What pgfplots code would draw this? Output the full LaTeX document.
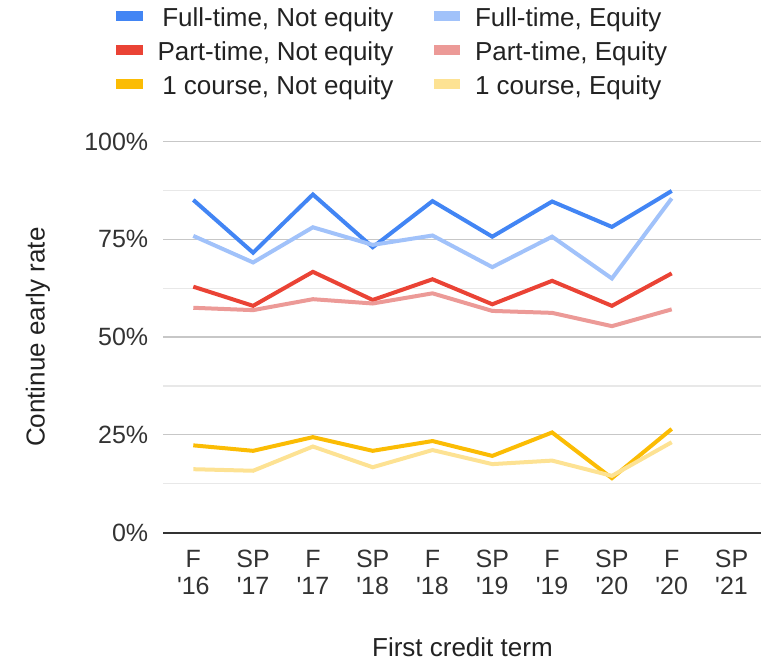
\documentclass[border=0pt]{standalone}
\usepackage{pgfplots}
\pgfplotsset{compat=1.18}
\usepackage{fontspec}
\setmainfont{Liberation Sans}[Ligatures=TeXOff]
\definecolor{cFTN}{HTML}{4285F4}
\definecolor{cFTE}{HTML}{A1C2FA}
\definecolor{cPTN}{HTML}{EA4335}
\definecolor{cPTE}{HTML}{EC9A97}
\definecolor{cOCN}{HTML}{FBBC04}
\definecolor{cOCE}{HTML}{FDE293}
\definecolor{txt}{HTML}{222222}
\newcommand{\lstrut}{\rule[-8pt]{0pt}{29pt}}
\newcommand{\lbox}[1]{\hbox to 236pt{\hfill #1}\lstrut}
\begin{document}
\begin{tikzpicture}
\useasboundingbox (0,0) rectangle (762pt,662pt);
\begin{axis}[
  at={(163.4pt,129.5pt)}, anchor=south west,
  scale only axis, width=598pt, height=390.8pt,
  xmin=-0.5, xmax=9.5, ymin=0, ymax=100,
  xtick={0,...,9},
  xticklabels={{F\\'16},{SP\\'17},{F\\'17},{SP\\'18},{F\\'18},{SP\\'19},{F\\'19},{SP\\'20},{F\\'20},{SP\\'21}},
  ytick={25,50,75,100}, yticklabels={25\%,50\%,75\%,100\%},
  extra y ticks={0}, extra y tick labels={0\%},
  extra y tick style={grid=major, major grid style={draw=black!80, line width=2pt}},
  minor ytick={12.5,37.5,62.5,87.5},
  ymajorgrids, yminorgrids,
  major grid style={draw=black!22, line width=1.3pt},
  minor grid style={draw=black!9, line width=1.3pt},
  axis line style={draw=none},
  major tick style={draw=none}, minor tick style={draw=none},
  tick label style={font=\fontsize{25}{27}\selectfont, text=black!80},
  xticklabel style={align=center, anchor=north, inner sep=0pt, yshift=-17.5pt},
  yticklabel style={anchor=east, inner sep=0pt, xshift=-15pt},
  xlabel={First credit term},
  xlabel style={at={(axis description cs:0.5,-0.2929)}, anchor=center, font=\fontsize{26}{28}\selectfont, text=txt, inner sep=0pt},
  ylabel={Continue early rate},
  ylabel style={at={(axis description cs:-0.2097,0.5)}, anchor=center, rotate=0, font=\fontsize{26}{28}\selectfont, text=txt, inner sep=0pt},
  every axis plot/.append style={line width=4pt},
  legend columns=2,
  legend cell align=left,
  legend image code/.code={\fill[draw=none] (0pt,-4.0pt) rectangle (26.7pt,5.3pt); \path (0pt,0pt) (39.5pt,0pt);},
  legend style={draw=none, fill=none, inner sep=0pt, outer sep=0pt, row sep=11.5pt, column sep=0pt,
    font=\fontsize{26}{28}\selectfont, text=txt,
    nodes={inner sep=0pt},
    /tikz/every even column/.append style={column sep=38pt},
    at={(axis description cs:-0.0826,1.3490)}, anchor=north west},
]
\addplot[color=cFTN] coordinates {(0,85.1) (1,71.6) (2,86.5) (3,73.0) (4,84.8) (5,75.7) (6,84.7) (7,78.2) (8,87.4)};
\addlegendentry{\lbox{Full-time, Not equity}}
\addplot[color=cFTE] coordinates {(0,75.9) (1,69.1) (2,78.1) (3,73.6) (4,76.0) (5,67.9) (6,75.7) (7,65.0) (8,85.5)};
\addlegendentry{Full-time, Equity\lstrut}
\addplot[color=cPTN] coordinates {(0,62.9) (1,58.0) (2,66.7) (3,59.5) (4,64.8) (5,58.4) (6,64.4) (7,58.0) (8,66.3)};
\addlegendentry{\lbox{Part-time, Not equity}}
\addplot[color=cPTE] coordinates {(0,57.5) (1,56.9) (2,59.7) (3,58.6) (4,61.2) (5,56.7) (6,56.2) (7,52.8) (8,57.1)};
\addlegendentry{Part-time, Equity\lstrut}
\addplot[color=cOCN] coordinates {(0,22.3) (1,20.9) (2,24.4) (3,20.9) (4,23.4) (5,19.6) (6,25.6) (7,13.9) (8,26.5)};
\addlegendentry{\lbox{1 course, Not equity}}
\addplot[color=cOCE] coordinates {(0,16.2) (1,15.8) (2,22.0) (3,16.7) (4,21.1) (5,17.5) (6,18.4) (7,14.5) (8,23.1)};
\addlegendentry{1 course, Equity\lstrut}
\end{axis}
\end{tikzpicture}
\end{document}
